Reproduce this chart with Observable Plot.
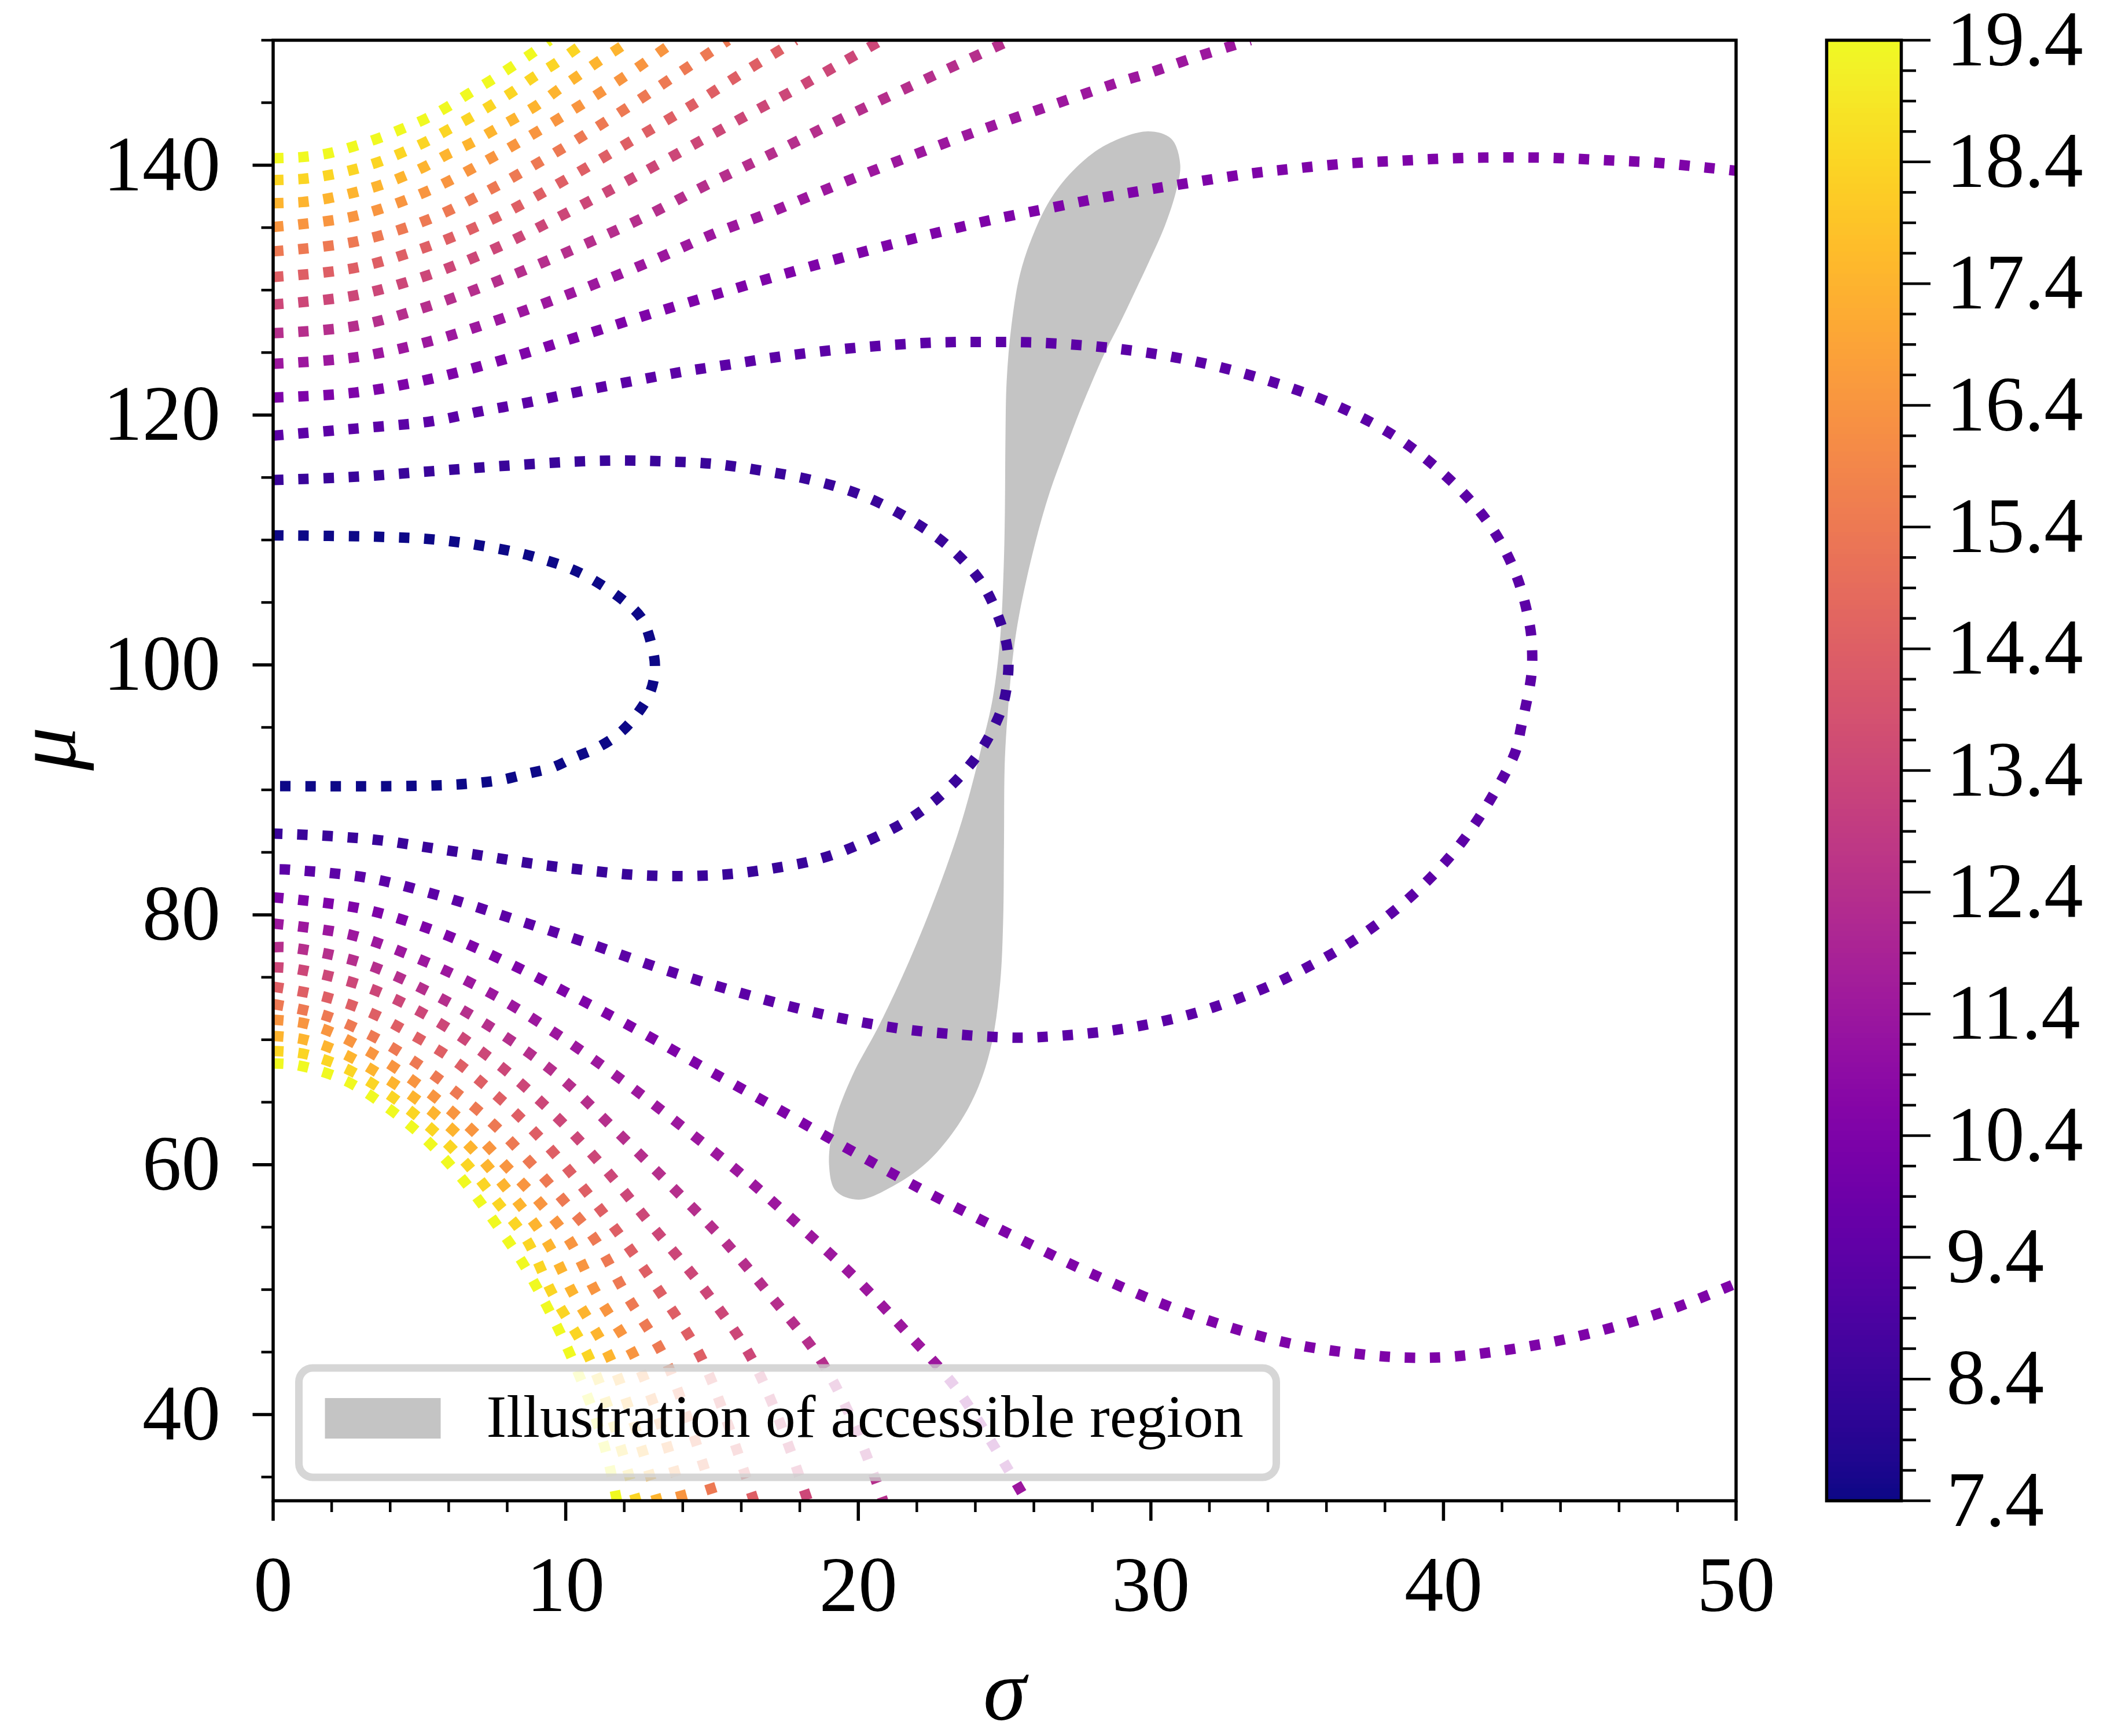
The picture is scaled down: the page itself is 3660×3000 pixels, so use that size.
<!DOCTYPE html>
<html>
<head>
<meta charset="utf-8">
<script src="https://cdn.jsdelivr.net/npm/d3@7"></script>
<script src="https://cdn.jsdelivr.net/npm/@observablehq/plot@0.6"></script>
<style>
  html, body { margin: 0; padding: 0; background: #fff; }
  #chart { position: relative; width: 3660px; height: 3000px; font-family: "Liberation Serif", serif; }
  #chart svg { position: absolute; top: 0; overflow: visible; }
</style>
</head>
<body>
<div id="chart"></div>
<script>
// ---- Contour levels (colour values) ----
const levels = [7.4, 8.4, 9.4, 10.4, 11.4, 12.4, 13.4, 14.4, 15.4, 16.4, 17.4, 18.4, 19.4];

// ---- Contour paths, [sigma, mu] pairs ----
const loop74 = [[0,110.37],[1.9,110.33],[3.7,110.25],[5.4,110.06],[7.1,109.55],[8.85,108.7],[10.5,107.35],[11.95,105.2],[12.6,103.7],[12.9,101.9],[13.05,99.85],[12.9,97.9],[12.45,96.1],[11.85,94.55],[11.1,93.4],[10.3,92.6],[9.55,91.8],[8.7,91.3],[7.8,90.8],[6.95,90.55],[6.05,90.4],[4.3,90.3],[0,90.3]];
const loop84 = [[0,114.8],[2.75,115.05],[5.4,115.5],[8.0,115.95],[10.6,116.3],[12.0,116.36],[13.25,116.3],[15.0,116.1],[16.7,115.55],[18.4,114.8],[20.1,113.6],[21.65,111.8],[23.1,109.45],[24.25,106.45],[24.95,102.75],[25.12,100.75],[25.1,98.75],[24.93,96.7],[24.58,94.77],[24.14,93.0],[23.6,91.4],[23.0,89.95],[22.35,88.65],[21.6,87.45],[20.85,86.5],[20.0,85.6],[19.25,84.9],[18.4,84.3],[17.55,83.9],[15.8,83.3],[14.1,83.1],[12.35,83.2],[10.6,83.6],[8.85,84.1],[7.1,84.75],[5.4,85.35],[3.7,85.95],[1.95,86.3],[0,86.5]];
const loop94 = [[0,118.35],[2.75,118.9],[5.4,119.5],[7.1,120.3],[8.8,121.05],[10.5,121.9],[12.25,122.7],[13.95,123.45],[15.6,124.05],[17.4,124.7],[20.0,125.4],[22.6,125.8],[24.35,125.85],[26.1,125.8],[28.7,125.35],[31.3,124.4],[33.8,122.9],[36.3,120.8],[38.6,117.9],[40.6,113.95],[41.7,110.8],[42.5,107.1],[42.95,103.15],[43.03,101.1],[43.0,99.1],[42.66,95.1],[42.45,93.0],[41.62,89.3],[40.67,85.95],[39.53,82.9],[38.2,80.1],[36.8,77.75],[35.3,75.75],[33.75,74.0],[31.3,72.0],[28.7,70.75],[26.1,70.2],[25.2,70.17],[23.5,70.4],[21.7,70.8],[20.0,71.45],[18.3,72.3],[15.75,73.9],[13.25,75.7],[10.8,77.7],[8.3,79.6],[5.8,81.45],[3.25,82.95],[0.6,83.6],[0,83.65]];

const upper104 = [[0,121.4],[2.8,121.8],[5.4,122.9],[7.9,124.45],[10.4,126.25],[12.9,128.1],[15.4,129.85],[17.05,131.0],[19.6,132.7],[22.1,134.25],[24.6,135.65],[26.4,136.5],[28.1,137.3],[29.8,138.0],[31.5,138.65],[33.3,139.3],[35.0,139.75],[36.8,140.15],[38.5,140.35],[40.25,140.55],[42.0,140.62],[43.75,140.58],[45.5,140.4],[47.25,140.2],[49.0,139.8],[50,139.55]];
const lower104 = [[0,81.4],[3.0,80.5],[5.55,78.7],[7.9,76.3],[10.3,73.45],[12.55,70.65],[14.85,67.6],[17.15,64.6],[19.4,61.6],[21.7,58.6],[23.25,56.7],[25.6,53.95],[27.95,51.3],[31.2,48.15],[34.55,45.8],[37.1,44.85],[38.9,44.55],[40.6,44.7],[44.1,46.0],[47.5,48.2],[50,50.5]];

const upper114 = [[0,124.1],[2.75,124.6],[5.35,125.9],[7.85,127.75],[10.3,129.85],[12.75,132.15],[15.15,134.6],[16.75,136.0],[19.15,138.3],[21.65,140.6],[24.1,142.75],[26.55,144.75],[29.05,146.75],[29.9,147.35],[31.6,148.7],[33.4,150]];
const lower114 = [[0,79.3],[2.65,78.4],[5.05,76.4],[7.45,73.7],[9.7,70.45],[11.85,66.9],[13.9,63.2],[15.95,59.35],[17.9,55.3],[19.85,51.05],[21.65,46.6],[23.35,42.1],[24.8,36.85],[25.3,34.9],[25.75,33.1]];

const upper124 = [[0,126.55],[2.75,127.1],[5.3,128.7],[7.75,130.8],[10.2,133.2],[12.6,135.75],[14.8,138.4],[17.2,141.1],[19.55,143.85],[22.0,146.55],[24.35,149.1],[25.2,150]];
const lower124 = [[0,77.4],[0.55,77.39],[3.0,76.18],[5.38,73.76],[7.68,70.65],[9.8,67.02],[11.65,62.88],[13.5,58.55],[15.36,54.06],[17.04,49.4],[18.66,44.56],[19.8,39.5],[20.85,33.1]];

const upper134 = [[0,128.85],[2.75,129.55],[5.3,131.2],[7.7,133.45],[10.05,136.2],[12.35,139.05],[14.65,142.0],[16.2,144.0],[17.75,145.95],[19.25,147.95],[20.8,150]];
const lower134 = [[0,75.8],[0.8,75.66],[3.23,74.18],[5.52,71.58],[7.64,68.13],[9.53,64.19],[11.24,59.94],[12.89,55.27],[14.84,49.7],[16.28,44.8],[17.3,39.5],[18.27,33.1]];

const upper144 = [[0,131.05],[2.75,131.75],[5.3,133.5],[7.7,135.9],[10.0,138.85],[12.25,141.95],[14.45,145.0],[15.95,147.25],[17.45,149.4],[17.85,150]];
const lower144 = [[0,74.25],[1.67,73.5],[3.3,72.2],[4.76,70.4],[6.18,68.35],[7.41,66.0],[8.61,63.4],[9.74,60.55],[10.82,57.5],[11.9,54.2],[13.25,49.7],[14.58,44.8],[15.5,39.5],[16.43,33.1]];

const upper154 = [[0,133.1],[2.75,133.85],[5.3,135.65],[7.7,138.4],[10.0,141.5],[12.1,144.6],[14.3,148.05],[15.55,150]];
const lower154 = [[0,72.85],[1.7,72.0],[3.3,70.4],[4.8,68.3],[6.2,65.9],[7.5,63.3],[8.7,60.4],[9.9,57.2],[11.0,54.0],[12.04,49.7],[13.32,44.8],[14.2,39.5],[15.09,33.1]];

const upper164 = [[0,135.05],[2.75,135.9],[5.2,137.85],[7.55,140.7],[9.85,143.85],[12.05,147.15],[13.45,149.45],[13.8,150]];
const lower164 = [[0,71.6],[1.0,71.35],[2.0,70.6],[3.6,68.6],[5.2,66.0],[6.7,63.0],[8.0,59.8],[9.1,57.0],[10.11,54.0],[11.05,49.7],[12.31,44.8],[13.2,39.5],[14.0,33.1]];

const upper174 = [[0,136.95],[1.0,137.05],[1.9,137.35],[2.75,137.8],[3.6,138.35],[4.4,139.05],[5.2,139.9],[5.95,140.85],[6.75,141.75],[7.5,142.75],[8.3,143.8],[9.05,144.85],[9.75,146.05],[10.45,147.2],[11.15,148.35],[11.9,149.5],[12.2,150]];
const lower174 = [[0,70.3],[1.0,70.05],[2.3,69.0],[3.8,67.0],[5.3,64.5],[6.7,61.5],[7.9,58.3],[9.31,54.0],[10.25,49.7],[11.46,44.8],[12.3,39.5],[13.13,33.1]];

const upper184 = [[0,138.8],[1.0,138.9],[1.9,139.2],[2.75,139.65],[3.6,140.25],[4.4,141.0],[5.2,141.85],[5.95,142.8],[6.7,143.75],[7.45,144.8],[8.2,145.9],[8.9,147.05],[9.65,148.15],[10.4,149.4],[10.75,150]];
const lower184 = [[0,69.1],[1.0,68.9],[2.4,67.8],[3.9,65.7],[5.3,63.1],[6.6,60.1],[7.7,56.9],[8.66,54.0],[9.54,49.7],[10.75,44.8],[11.6,39.5],[12.41,33.1]];

const upper194 = [[0,140.55],[1.0,140.65],[1.9,140.95],[2.75,141.5],[3.6,142.15],[4.4,142.9],[5.2,143.7],[5.95,144.65],[6.7,145.75],[7.45,146.8],[8.2,147.95],[8.9,149.05],[9.45,150]];
const lower194 = [[0,68.1],[0.85,67.95],[2.45,66.75],[3.95,64.5],[5.25,61.95],[6.45,58.9],[7.5,55.65],[8.5,52.25],[9.35,48.7],[10.1,45.1],[10.9,40.5],[11.4,36.8],[11.75,33.1]];

// level -> list of paths drawn at that level
const contourSets = [
  [7.4, [loop74]], [8.4, [loop84]], [9.4, [loop94]],
  [10.4, [upper104, lower104]], [11.4, [upper114, lower114]],
  [12.4, [upper124, lower124]], [13.4, [upper134, lower134]],
  [14.4, [upper144, lower144]], [15.4, [upper154, lower154]],
  [16.4, [upper164, lower164]], [17.4, [upper174, lower174]],
  [18.4, [upper184, lower184]], [19.4, [upper194, lower194]]
];

// ---- Outline of the accessible region, [sigma, mu] ----
const regionOutline = [[29.9,142.7],[30.7,142.1],[31.0,140.1],[30.87,138.0],[30.47,135.1],[29.96,132.4],[29.46,129.9],[28.95,127.4],[28.45,125.1],[27.94,122.4],[27.5,119.9],[27.05,117.1],[26.54,113.8],[26.04,109.7],[25.53,104.4],[25.3,101.0],[25.15,97.4],[25.01,92.5],[24.98,86.0],[24.95,79.5],[24.85,74.6],[24.56,69.7],[24.1,66.2],[23.42,63.2],[22.4,60.3],[21.27,58.4],[20.02,57.2],[19.23,57.9],[19.0,60.0],[19.17,63.2],[19.79,67.1],[20.7,71.1],[21.72,76.2],[22.74,82.1],[23.55,87.6],[24.22,93.5],[24.6,97.4],[24.85,102.2],[24.97,107.9],[25.01,112.3],[25.03,118.3],[25.07,122.7],[25.23,127.1],[25.53,131.3],[26.04,134.8],[26.63,137.5],[27.44,139.8],[28.45,141.6]];

// ---- Axes ----
const xMajor = [0, 10, 20, 30, 40, 50];
const xMinor = d3.range(0, 50.01, 2).filter(v => v % 10 !== 0);
const yMajor = [40, 60, 80, 100, 120, 140];
const yMinor = [35, 45, 50, 55, 65, 70, 75, 85, 90, 95, 105, 110, 115, 125, 130, 135, 145, 150];
const cbMajor = d3.range(0, 13).map(i => +(7.4 + i).toFixed(1));
const cbMinor = d3.range(0, 49).map(i => +(7.4 + i * 0.25).toFixed(2)).filter((v, i) => i % 4 !== 0);

const legendLabel = "Illustration of accessible region";

// ---- Tables built from the arrays above ----
const contourRows = [];
contourSets.forEach(([level, paths], li) => {
  paths.forEach((path, pi) => {
    path.forEach(([sigma, mu]) => contourRows.push({id: `${li}-${pi}`, level, sigma, mu}));
  });
});
const regionRows = regionOutline.map(([sigma, mu]) => ({sigma, mu}));

const W = 3100, H = 3000;
const frame = {left: 471.5, right: 2999.5, top: 69, bottom: 2593};
const FONT = "Liberation Serif";
const colorScale = {type: "linear", scheme: "plasma", domain: [7.4, 19.4]};

const main = Plot.plot({
  width: W, height: H,
  marginLeft: frame.left, marginRight: W - frame.right,
  marginTop: frame.top, marginBottom: H - frame.bottom,
  style: {fontFamily: FONT, fontSize: "135px", background: "transparent", color: "black"},
  x: {domain: [0, 50]},
  y: {domain: [33.1, 150]},
  color: colorScale,
  marks: [
    Plot.line(regionRows, {x: "sigma", y: "mu", curve: "catmull-rom-closed", fill: "#c4c4c4", stroke: "none"}),
    Plot.line(contourRows, {
      x: "sigma", y: "mu", z: "id", stroke: "level",
      strokeWidth: 18, strokeDasharray: "18,25.5", strokeLinecap: "butt", strokeLinejoin: "round",
      curve: "catmull-rom", clip: true
    }),
    Plot.frame({strokeWidth: 5.5}),
    Plot.axisX({ticks: xMajor, tickSize: 35, strokeWidth: 5.5, tickPadding: 60, fontSize: 135, tickFormat: d => String(d), label: null}),
    Plot.axisX({ticks: xMinor, tickSize: 20, strokeWidth: 4.5, tickFormat: () => "", label: null}),
    Plot.axisY({ticks: yMajor, tickSize: 35, strokeWidth: 5.5, tickPadding: 56, fontSize: 135, tickFormat: d => String(d), label: null}),
    Plot.axisY({ticks: yMinor, tickSize: 20, strokeWidth: 4.5, tickFormat: () => "", label: null}),
    Plot.text(["σ"], {text: d => d, frameAnchor: "bottom", dy: 330, lineAnchor: "middle", fontSize: 150, fontStyle: "italic"}),
    Plot.text(["μ"], {text: d => d, frameAnchor: "left", dx: -390, rotate: -90, lineAnchor: "middle", fontSize: 150, fontStyle: "italic"})
  ]
});

// Legend box drawn inside the plotting frame, lower-left corner
{
  const svg = d3.select(main);
  const g = svg.append("g").attr("class", "legend");
  const bx = frame.left + 45, by = 2364, bw = 1689, bh = 189;
  g.append("rect").attr("x", bx).attr("y", by).attr("width", bw).attr("height", bh)
    .attr("rx", 24).attr("ry", 24)
    .attr("fill", "white").attr("fill-opacity", 0.8)
    .attr("stroke", "#cccccc").attr("stroke-opacity", 0.8).attr("stroke-width", 13);
  g.append("rect").attr("x", bx + 45).attr("y", by + 52).attr("width", 200).attr("height", 70)
    .attr("fill", "#c4c4c4");
  g.append("text").attr("x", bx + 324).attr("y", by + 119)
    .attr("text-anchor", "start")
    .attr("font-family", FONT).attr("font-size", 104).attr("fill", "black")
    .text(legendLabel);
}

// Colour bar
const cbX0 = 3050, cbW = 610;
const cbLeft = 3156, cbRight = 3285;
const bands = d3.range(0, 600).map(i => [7.4 + i * 0.02, 7.4 + (i + 1) * 0.02]);
const colorbar = Plot.plot({
  width: cbW, height: H,
  marginLeft: cbLeft - cbX0, marginRight: cbX0 + cbW - cbRight,
  marginTop: frame.top, marginBottom: H - frame.bottom,
  style: {fontFamily: FONT, fontSize: "135px", background: "transparent", color: "black"},
  x: {domain: [0, 1], axis: null},
  y: {domain: [7.4, 19.4], axis: null},
  color: colorScale,
  marks: [
    Plot.rect(bands, {x1: () => 0, x2: () => 1, y1: d => d[0], y2: d => d[1] + 0.004, fill: d => (d[0] + d[1]) / 2, shapeRendering: "crispEdges"}),
    Plot.frame({strokeWidth: 5.5}),
    Plot.axisY({anchor: "right", ticks: cbMajor, tickSize: 50, strokeWidth: 4.5, tickPadding: 28, fontSize: 135, tickFormat: d => d.toFixed(1), label: null}),
    Plot.axisY({anchor: "right", ticks: cbMinor, tickSize: 25, strokeWidth: 4.5, tickFormat: () => "", label: null})
  ]
});

const chart = document.getElementById("chart");
main.style.left = "0px";
colorbar.style.left = cbX0 + "px";
chart.appendChild(main);
chart.appendChild(colorbar);
</script>
</body>
</html>
